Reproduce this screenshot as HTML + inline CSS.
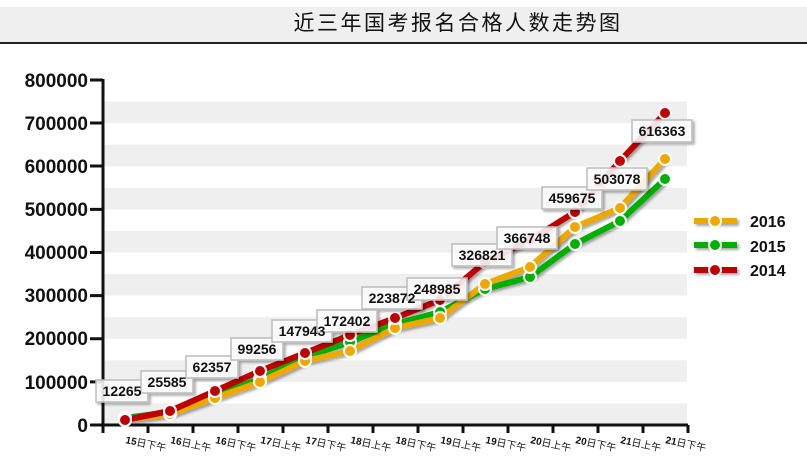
<!DOCTYPE html>
<html><head><meta charset="utf-8"><style>body{margin:0;background:#fff}svg{display:block}</style></head><body>
<svg width="807" height="465" xmlns="http://www.w3.org/2000/svg" font-family="Liberation Sans, Noto Sans CJK SC, sans-serif">
<defs><filter id="sh" x="-20%" y="-20%" width="150%" height="160%"><feDropShadow dx="2" dy="2" stdDeviation="1.2" flood-color="#000" flood-opacity="0.35"/></filter></defs>
<rect x="0" y="7" width="807" height="36" fill="#efefef"/>
<rect x="0" y="42" width="807" height="2" fill="#222"/>
<text x="458" y="30" font-size="21" text-anchor="middle" letter-spacing="2.5" fill="#111">近三年国考报名合格人数走势图</text>
<g fill="#efefef">
<rect x="103" y="403.4" width="584" height="21.6"/><rect x="103" y="360.3" width="584" height="21.6"/><rect x="103" y="317.2" width="584" height="21.6"/><rect x="103" y="274" width="584" height="21.6"/><rect x="103" y="231" width="584" height="21.6"/><rect x="103" y="187.8" width="584" height="21.6"/><rect x="103" y="144.7" width="584" height="21.6"/><rect x="103" y="101.6" width="584" height="21.6"/>
</g>
<g stroke="#111" stroke-width="3" fill="none">
<path d="M103 79V425H688"/>
<path d="M90 80H103M90 123H103M90 166H103M90 209.4H103M90 252.5H103M90 295.6H103M90 338.8H103M90 381.9H103M90 425H103"/>
<path d="M103 425v8M148 425v8M193 425v8M238 425v8M283 425v8M328 425v8M373 425v8M418 425v8M463 425v8M508 425v8M553 425v8M598 425v8M643 425v8M688 425v8"/>
</g>
<g font-size="19" font-weight="bold" text-anchor="end" fill="#111">
<text x="88" y="87">800000</text><text x="88" y="130">700000</text><text x="88" y="173">600000</text><text x="88" y="216">500000</text><text x="88" y="259">400000</text><text x="88" y="302">300000</text><text x="88" y="345">200000</text><text x="88" y="389">100000</text><text x="88" y="432">0</text>
</g>
<g font-size="10" fill="#111">
<text transform="translate(125,443) rotate(12)"><tspan font-weight="bold">15</tspan>日下午</text>
<text transform="translate(170,443) rotate(12)"><tspan font-weight="bold">16</tspan>日上午</text>
<text transform="translate(215,443) rotate(12)"><tspan font-weight="bold">16</tspan>日下午</text>
<text transform="translate(260,443) rotate(12)"><tspan font-weight="bold">17</tspan>日上午</text>
<text transform="translate(305,443) rotate(12)"><tspan font-weight="bold">17</tspan>日下午</text>
<text transform="translate(350,443) rotate(12)"><tspan font-weight="bold">18</tspan>日上午</text>
<text transform="translate(395,443) rotate(12)"><tspan font-weight="bold">18</tspan>日下午</text>
<text transform="translate(440,443) rotate(12)"><tspan font-weight="bold">19</tspan>日上午</text>
<text transform="translate(485,443) rotate(12)"><tspan font-weight="bold">19</tspan>日下午</text>
<text transform="translate(530,443) rotate(12)"><tspan font-weight="bold">20</tspan>日上午</text>
<text transform="translate(575,443) rotate(12)"><tspan font-weight="bold">20</tspan>日下午</text>
<text transform="translate(620,443) rotate(12)"><tspan font-weight="bold">21</tspan>日上午</text>
<text transform="translate(665,443) rotate(12)"><tspan font-weight="bold">21</tspan>日下午</text>
</g>
<g fill="none" stroke-width="6" stroke-linejoin="round" filter="url(#sh)">
<polyline stroke="#00b000" points="125,418 170,412 215,395 260,379 305,357 350,342 395,324 440,312 485,289 530,277 575,244 620,221 665,179"/>
<polyline stroke="#f0a800" points="125,420 170,414 215,398 260,382 305,361 350,351 395,328 440,318 485,284 530,267 575,227 620,208 665,159"/>
<polyline stroke="#c00000" points="125,420 170,411 215,391 260,371 305,353 350,335 395,318 440,300 485,262 530,240 575,212 620,161 665,113"/>
</g>
<g stroke="#fff" stroke-width="2">
<g fill="#00b000"><circle cx="125" cy="418" r="6"/><circle cx="170" cy="412" r="6"/><circle cx="215" cy="395" r="6"/><circle cx="260" cy="379" r="6"/><circle cx="305" cy="357" r="6"/><circle cx="350" cy="342" r="6"/><circle cx="395" cy="324" r="6"/><circle cx="440" cy="312" r="6"/><circle cx="485" cy="289" r="6"/><circle cx="530" cy="277" r="6"/><circle cx="575" cy="244" r="6"/><circle cx="620" cy="221" r="6"/><circle cx="665" cy="179" r="6"/></g>
<g fill="#f0a800"><circle cx="125" cy="420" r="6"/><circle cx="170" cy="414" r="6"/><circle cx="215" cy="398" r="6"/><circle cx="260" cy="382" r="6"/><circle cx="305" cy="361" r="6"/><circle cx="350" cy="351" r="6"/><circle cx="395" cy="328" r="6"/><circle cx="440" cy="318" r="6"/><circle cx="485" cy="284" r="6"/><circle cx="530" cy="267" r="6"/><circle cx="575" cy="227" r="6"/><circle cx="620" cy="208" r="6"/><circle cx="665" cy="159" r="6"/></g>
<g fill="#c00000"><circle cx="125" cy="420" r="6"/><circle cx="170" cy="411" r="6"/><circle cx="215" cy="391" r="6"/><circle cx="260" cy="371" r="6"/><circle cx="305" cy="353" r="6"/><circle cx="350" cy="335" r="6"/><circle cx="395" cy="318" r="6"/><circle cx="440" cy="300" r="6"/><circle cx="485" cy="262" r="6"/><circle cx="530" cy="240" r="6"/><circle cx="575" cy="212" r="6"/><circle cx="620" cy="161" r="6"/><circle cx="665" cy="113" r="6"/></g>
</g>
<g font-size="14" font-weight="bold" fill="#111" text-anchor="middle">
<g fill="#fff" fill-opacity="0.85" stroke="#bbb" stroke-width="1.5" filter="url(#sh)">
<rect x="96" y="380" width="52" height="22"/><rect x="141" y="371" width="52" height="22"/><rect x="186" y="356" width="52" height="22"/><rect x="231" y="338" width="52" height="22"/><rect x="272" y="320" width="60" height="22"/><rect x="317" y="310" width="60" height="22"/><rect x="362" y="287" width="60" height="22"/><rect x="407" y="278" width="60" height="22"/><rect x="452" y="244" width="60" height="22"/><rect x="497" y="227" width="60" height="22"/><rect x="542" y="187" width="60" height="22"/><rect x="587" y="168" width="60" height="22"/><rect x="632" y="120" width="60" height="22"/>
</g>
<text x="122" y="396">12265</text><text x="167" y="387">25585</text><text x="212" y="372">62357</text><text x="257" y="354">99256</text><text x="302" y="336">147943</text><text x="347" y="326">172402</text><text x="392" y="303">223872</text><text x="437" y="294">248985</text><text x="482" y="260">326821</text><text x="527" y="243">366748</text><text x="572" y="203">459675</text><text x="617" y="184">503078</text><text x="662" y="136">616363</text>
</g>
<g stroke-width="6" filter="url(#sh)">
<line x1="694" y1="221" x2="737" y2="221" stroke="#f0a800"/><line x1="694" y1="245" x2="737" y2="245" stroke="#00b000"/><line x1="694" y1="270" x2="737" y2="270" stroke="#c00000"/>
</g>
<g stroke="#fff" stroke-width="2"><circle cx="715" cy="221" r="6" fill="#f0a800"/><circle cx="715" cy="245" r="6" fill="#00b000"/><circle cx="715" cy="270" r="6" fill="#c00000"/></g>
<g font-size="16" font-weight="bold" fill="#111"><text x="750" y="227">2016</text><text x="750" y="252">2015</text><text x="750" y="276">2014</text></g>
</svg>
</body></html>
